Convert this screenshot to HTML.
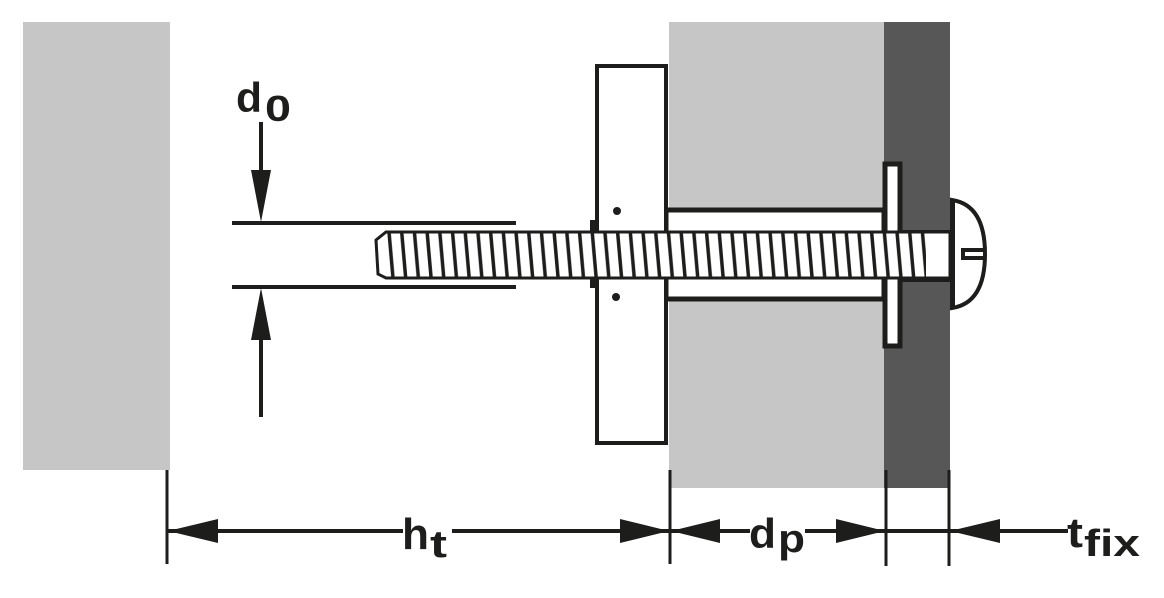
<!DOCTYPE html>
<html><head><meta charset="utf-8"><style>
html,body{margin:0;padding:0;background:#fff;}
svg{display:block;}
text{font-family:"Liberation Sans",sans-serif;font-weight:bold;fill:#1d1d1b;}
</style></head><body>
<svg width="1164" height="598" viewBox="0 0 1164 598" xmlns="http://www.w3.org/2000/svg">
<defs>
<pattern id="thr" x="386" y="0" width="12.7" height="598" patternUnits="userSpaceOnUse">
<line x1="3" y1="232" x2="7" y2="278" stroke="#1d1d1b" stroke-width="3.5"/>
</pattern>
</defs>
<rect x="23" y="22" width="147" height="448" fill="#c6c6c6"/>
<rect x="669" y="22" width="215" height="466" fill="#c6c6c6"/>
<rect x="884" y="22" width="66" height="466" fill="#575757"/>
<rect x="666" y="210" width="218" height="89" fill="#fff" stroke="#1d1d1b" stroke-width="5"/>
<rect x="597" y="66" width="69" height="377" fill="#fff" stroke="#1d1d1b" stroke-width="4"/>
<circle cx="617" cy="211" r="4" fill="#1d1d1b"/>
<circle cx="616" cy="297" r="4" fill="#1d1d1b"/>
<rect x="590" y="220" width="8" height="68" fill="#1d1d1b"/>
<rect x="885" y="164" width="15" height="182" fill="#fff" stroke="#1d1d1b" stroke-width="5"/>
<rect x="900" y="230" width="52" height="52" fill="#1d1d1b"/>
<path d="M386,232 L950,232 L950,278 L386,278 L378,274 L376,240 Z" fill="#fff" stroke="#1d1d1b" stroke-width="3"/>
<rect x="386" y="233" width="540" height="44" fill="url(#thr)"/>
<path d="M952,200 Q985,205 985,254 Q985,303 952,308 Z" fill="#fff" stroke="#1d1d1b" stroke-width="4"/>
<rect x="950" y="200" width="5" height="108" fill="#1d1d1b"/>
<path d="M985,250 L963,250 L963,258 L985,258" fill="none" stroke="#1d1d1b" stroke-width="4"/>
<line x1="232" y1="223" x2="516" y2="223" stroke="#1d1d1b" stroke-width="4"/>
<line x1="232" y1="287" x2="516" y2="287" stroke="#1d1d1b" stroke-width="4"/>
<line x1="261" y1="122" x2="261" y2="180" stroke="#1d1d1b" stroke-width="4"/>
<polygon points="251,170 271,170 261,222" fill="#1d1d1b"/>
<line x1="261" y1="330" x2="261" y2="417" stroke="#1d1d1b" stroke-width="4"/>
<polygon points="251,340 271,340 261,288" fill="#1d1d1b"/>
<text x="236" y="112" font-size="42" textLength="26" lengthAdjust="spacingAndGlyphs">d</text>
<text x="265" y="121" font-size="36" textLength="26" lengthAdjust="spacingAndGlyphs">0</text>
<g stroke="#1d1d1b" stroke-width="3">
<line x1="167" y1="470" x2="167" y2="564"/>
<line x1="670" y1="470" x2="670" y2="564"/>
<line x1="886" y1="470" x2="886" y2="566"/>
<line x1="949" y1="470" x2="949" y2="566"/>
</g>
<g stroke="#1d1d1b" stroke-width="4">
<line x1="168" y1="531" x2="403" y2="531"/>
<line x1="452" y1="531" x2="669" y2="531"/>
<line x1="671" y1="531" x2="750" y2="531"/>
<line x1="805" y1="531" x2="885" y2="531"/>
<line x1="887" y1="531" x2="948" y2="531"/>
<line x1="950" y1="531" x2="1068" y2="531"/>
</g>
<g fill="#1d1d1b">
<polygon points="168,531 218,519 218,543"/>
<polygon points="669,531 620,519 620,543"/>
<polygon points="671,531 720,519 720,543"/>
<polygon points="885,531 836,519 836,543"/>
<polygon points="950,531 1000,519 1000,543"/>
</g>
<text x="402" y="549" font-size="44" textLength="27" lengthAdjust="spacingAndGlyphs">h</text>
<text x="430" y="557" font-size="38" textLength="17" lengthAdjust="spacingAndGlyphs">t</text>
<text x="749" y="548" font-size="42" textLength="27" lengthAdjust="spacingAndGlyphs">d</text>
<text x="778" y="552" font-size="40" textLength="27" lengthAdjust="spacingAndGlyphs">p</text>
<text x="1067" y="547" font-size="42" textLength="16" lengthAdjust="spacingAndGlyphs">t</text>
<text x="1084" y="556" font-size="38" textLength="56" lengthAdjust="spacingAndGlyphs">fix</text>
</svg>
</body></html>
